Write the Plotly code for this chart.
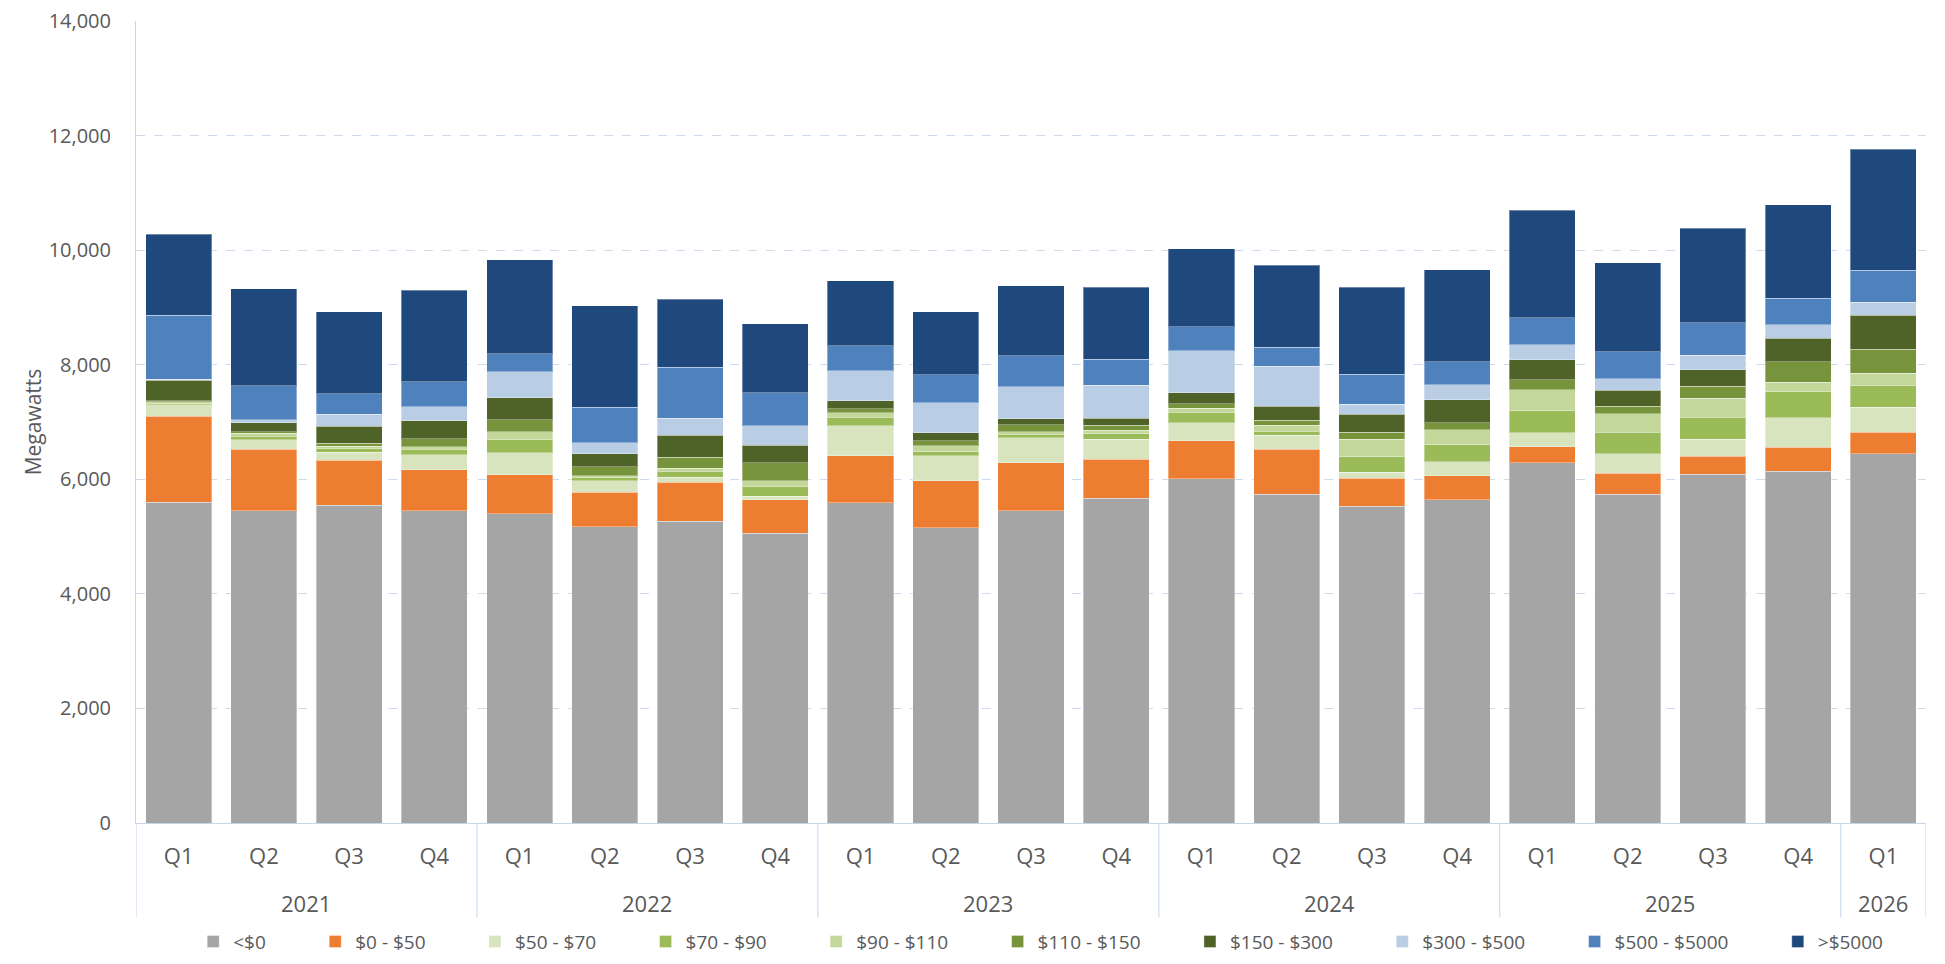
import plotly.graph_objects as go

years = ["2021"] * 4 + ["2022"] * 4 + ["2023"] * 4 + ["2024"] * 4 + ["2025"] * 4 + ["2026"]
quarters = ["Q1", "Q2", "Q3", "Q4"] * 5 + ["Q1"]
year_labels = ["2021", "2022", "2023", "2024", "2025", "2026"]

series_names = ["<$0", "$0 - $50", "$50 - $70", "$70 - $90", "$90 - $110",
                "$110 - $150", "$150 - $300", "$300 - $500", "$500 - $5000", ">$5000"]

lt0 = [5600, 5450, 5550, 5450, 5400, 5170, 5270, 5060, 5590, 5150, 5450, 5670, 6010, 5740, 5530, 5640, 6290, 5740, 6090, 6140, 6450]
p0_50 = [1500, 1077, 786, 716, 675, 605, 675, 582, 821, 821, 839, 681, 664, 786, 489, 419, 274, 367, 309, 420, 367]
p50_70 = [200, 163, 140, 262, 390, 198, 93, 59, 524, 437, 436, 350, 314, 245, 105, 245, 250, 338, 303, 512, 442]
p70_90 = [15, 58, 57, 93, 221, 58, 99, 174, 145, 76, 64, 93, 181, 64, 268, 303, 385, 373, 379, 460, 373]
p90_110 = [35, 58, 47, 46, 146, 29, 58, 99, 82, 98, 41, 64, 70, 110, 309, 256, 367, 326, 338, 164, 216]
p110_150 = [20, 23, 53, 140, 210, 158, 192, 315, 70, 88, 122, 87, 81, 88, 122, 122, 174, 134, 204, 355, 419]
p150_300 = [360, 157, 291, 314, 378, 227, 379, 308, 139, 140, 105, 123, 192, 244, 314, 402, 350, 280, 285, 414, 595]
p300_500 = [20, 52, 215, 245, 460, 192, 303, 338, 524, 524, 559, 576, 734, 699, 175, 262, 262, 198, 256, 233, 227]
p500_5000 = [1110, 593, 350, 436, 314, 623, 890, 576, 437, 489, 541, 454, 419, 332, 524, 402, 466, 472, 566, 466, 559]
gt5000 = [1415, 1697, 1432, 1601, 1642, 1770, 1188, 1205, 1135, 1100, 1223, 1258, 1362, 1432, 1520, 1606, 1876, 1549, 1654, 1625, 2115]

series_values = [lt0, p0_50, p50_70, p70_90, p90_110, p110_150, p150_300, p300_500, p500_5000, gt5000]
colors = ["#A5A5A5", "#ED7D31", "#D7E4BD", "#9BBB59", "#C4D79B",
          "#77933C", "#4F6228", "#B9CDE5", "#4F81BD", "#1F497D"]

FONT = "Open Sans, Noto Sans, Lato, sans-serif"
TXT = "#595959"
AXC = "#C5D6EC"
PAD = "\u00a0" * 9  # trailing spacing after each legend entry, as in the original legend

# one category per quarter, labelled by quarter; years are drawn as group labels
cats = [f"{y} {q}" for y, q in zip(years, quarters)]

fig = go.Figure()
for name, vals, col in zip(series_names, series_values, colors):
    fig.add_trace(go.Bar(
        x=cats, y=vals, name=name + PAD,
        marker=dict(color=col, line=dict(color="rgba(255,255,255,0.35)", width=1)),
    ))

# year group labels and dividers, positioned from the category indices
annotations = []
shapes = []
idx = 0
bounds = [-0.5]
for yl in year_labels:
    n = years.count(yl)
    center = idx + (n - 1) / 2
    annotations.append(dict(x=center, xref="x", y=-0.0998, yref="paper", text=yl,
                            showarrow=False, yanchor="middle", xanchor="center",
                            font=dict(size=22, color=TXT, family=FONT)))
    idx += n
    bounds.append(idx - 0.5)
for b in bounds:
    shapes.append(dict(type="line", xref="x", yref="paper", x0=b, x1=b, y0=0, y1=-0.118,
                       line=dict(color=AXC, width=1), layer="above"))

fig.update_layout(
    barmode="stack",
    bargap=0.225,
    width=1945, height=964,
    margin=dict(l=136, r=19, t=21, b=141, autoexpand=False),
    paper_bgcolor="white", plot_bgcolor="white",
    font=dict(family=FONT, color=TXT, size=19),
    showlegend=True,
    legend=dict(orientation="h", x=0.518, xanchor="center", y=-0.148, yanchor="middle",
                traceorder="normal", font=dict(size=19, color=TXT, family=FONT),
                itemwidth=30),
    annotations=annotations,
    shapes=shapes,
)
fig.update_yaxes(
    range=[0, 14000], dtick=2000, tickformat=",d",
    showgrid=True, gridcolor="#CCDAEE", griddash="dash", gridwidth=1,
    showline=True, linecolor=AXC, linewidth=1,
    zeroline=False, automargin=False,
    tickfont=dict(size=20, color=TXT, family=FONT),
    ticklabelstandoff=20,
    title=dict(text="Megawatts", font=dict(size=21, color=TXT, family=FONT), standoff=1),
)
fig.update_xaxes(
    type="category",
    tickmode="array", tickvals=cats, ticktext=quarters,
    range=[-0.5, len(cats) - 0.5],
    showline=True, linecolor=AXC, linewidth=1,
    automargin=False,
    tickfont=dict(size=22, color=TXT, family=FONT),
    ticklabelstandoff=14,
    showgrid=False,
)

fig.write_html("out.html")
